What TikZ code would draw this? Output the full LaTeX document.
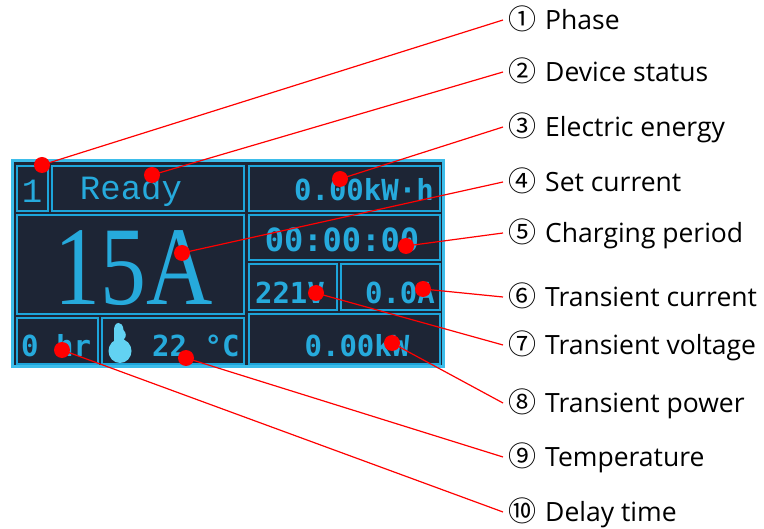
\documentclass[tikz,border=0pt]{standalone}
\usepackage{fontspec}
\setmainfont{Open Sans}
\newfontfamily\circfont{Noto Sans CJK SC}
\newfontfamily\lcdfont{DejaVu Sans Mono}
\newfontfamily\lcdserif{Liberation Mono}
\newfontfamily\bigserif{Liberation Serif}
\definecolor{lcdbg}{HTML}{1D2535}
\definecolor{lcdcyan}{HTML}{1DA5DA}
\definecolor{lcdedge}{HTML}{3DBDEA}
\definecolor{lcdtext}{HTML}{26AADC}
\definecolor{thermo}{HTML}{62D2F2}
\definecolor{pinred}{HTML}{FF0000}
\newcommand{\cnum}[1]{{\circfont\fontsize{28}{28}\selectfont #1}\hspace{9pt}}
\begin{document}
\begin{tikzpicture}[x=1pt,y=-1pt,
  cell/.style={draw=lcdcyan, line width=2pt},
  lcdtxt/.style={text=lcdtext, inner sep=0pt, font=\lcdfont\bfseries\fontsize{29}{30}\selectfont},
  serifdisp/.style={text=lcdtext, inner sep=0pt, font=\lcdserif\fontsize{34}{36}\selectfont},
  pin/.style={circle, fill=pinred, minimum size=16pt, inner sep=0pt},
  lead/.style={draw=pinred, line width=1.2pt},
  lab/.style={anchor=west, inner xsep=5pt, inner ysep=0pt, text height=19pt, text depth=0pt, font=\fontsize{26.5}{30}\selectfont}]
\useasboundingbox (0,0) rectangle (764,529);
% LCD panel
\fill[lcdbg] (11,159) rectangle (445,368);
\draw[lcdedge, line width=2.5pt] (12.5,160.5) rectangle (443.5,366.5);
\draw[cell] (17,166) rectangle (48,211);
\draw[cell] (52,166) rectangle (244,211);
\draw[cell] (249,166) rectangle (440,211);
\draw[cell] (17,215) rectangle (244,314);
\draw[cell] (249,215) rectangle (440,260);
\draw[cell] (249,264) rectangle (337,310);
\draw[cell] (341,264) rectangle (440,310);
\draw[cell] (17,318) rectangle (98,364);
\draw[cell] (102,318) rectangle (244,364);
\draw[cell] (249,314) rectangle (440,364);
% LCD texts
\node[serifdisp] (t1) at (32,191) {1};
\node[serifdisp] (t2) at (131,191) {Ready};
\node[text=lcdtext, inner sep=0pt, xscale=0.82, font=\bigserif\fontsize{112}{114}\selectfont] (t4) at (134,268) {15A};
\node[lcdtxt, anchor=east] (t3) at (434,190) {0.00kW·h};
\node[lcdtxt, font=\lcdfont\bfseries\fontsize{32}{32}\selectfont] (t5) at (342,240) {00:00:00};
\node[lcdtxt] (t7) at (290,293) {221V};
\node[lcdtxt] (t6) at (400,293) {0.0A};
\node[lcdtxt] (t8) at (357,346) {0.00kW};
\node[lcdtxt, anchor=west] (t10) at (21,346) {0 hr};
\node[lcdtxt, anchor=west] (t9) at (152,346) {22 °C};
% thermometer icon
\fill[thermo] (118.5,323) .. controls (115,323) and (114,327) .. (114,331)
  -- (114,344) -- (124,344) -- (124,339)
  .. controls (126.5,337) and (126.5,333) .. (123.5,330)
  .. controls (123,325) and (121,323) .. (118.5,323) -- cycle;
\fill[thermo] (120,351) ellipse[x radius=11.5, y radius=12];
% leader lines and labels
\node[lab] (l1) at (503,20) {\cnum{①}Phase};
\node[lab] (l2) at (503,72) {\cnum{②}Device status};
\node[lab] (l3) at (503,127) {\cnum{③}Electric energy};
\node[lab] (l4) at (503,182) {\cnum{④}Set current};
\node[lab] (l5) at (503,233) {\cnum{⑤}Charging period};
\node[lab] (l6) at (503,297) {\cnum{⑥}Transient current};
\node[lab] (l7) at (503,345) {\cnum{⑦}Transient voltage};
\node[lab] (l8) at (503,403) {\cnum{⑧}Transient power};
\node[lab] (l9) at (503,457) {\cnum{⑨}Temperature};
\node[lab] (l10) at (503,512) {\cnum{⑩}Delay time};
\coordinate (d1) at (42,165);
\coordinate (d2) at (152,175);
\coordinate (d3) at (340,179);
\coordinate (d4) at (182,253);
\coordinate (d5) at (406,246);
\coordinate (d6) at (423,289);
\coordinate (d7) at (316,293);
\coordinate (d8) at (392,343);
\coordinate (d9) at (186,358);
\coordinate (d10) at (62,350);
\foreach \i in {1,...,10} {\draw[lead] (d\i) -- (l\i.west);}
\foreach \i in {1,...,10} {\node[pin] (p\i) at (d\i) {};}
\end{tikzpicture}
\end{document}
